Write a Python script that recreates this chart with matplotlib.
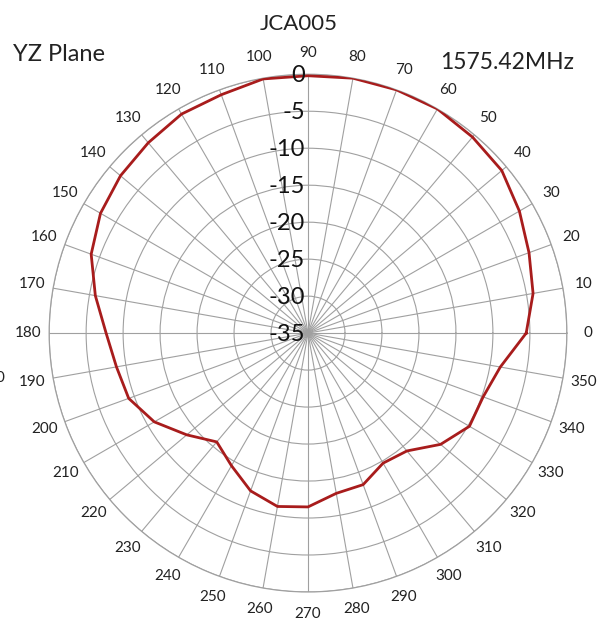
import numpy as np
import matplotlib.pyplot as plt

plt.rcParams['font.family'] = ['Lato', 'DejaVu Sans']

# pattern, dB every 10 degrees
angles_deg = list(range(0, 360, 10))
gain_db = [-5.5, -4.1, -3.2, -2.0, -0.8, -0.4, 0.0, 0.0, 0.0,
           -0.2, -0.1, -0.7, -0.8, -1.4, -1.9, -2.6, -3.8, -5.8,
           -7.7, -8.7, -9.2, -11.0, -13.6, -15.8, -14.3, -12.3, -11.2,
           -11.5, -13.0, -13.2, -14.7, -14.2, -11.6, -9.8, -9.8, -8.6]
ring_values = [-35, -30, -25, -20, -15, -10, -5, 0]
angle_labels = [str(a) for a in angles_deg]

grid_col = '#a0a0a0'

fig = plt.figure(figsize=(6.08, 6.23), dpi=100)
ax = fig.add_axes([0.0806, 0.0498, 0.852, 0.831], projection='polar')

theta = np.deg2rad(angles_deg + [angles_deg[0]])
r = gain_db + [gain_db[0]]
ax.plot(theta, r, color='#a81c1c', lw=2.0, zorder=5)

ax.set_ylim(-35, 0)
ax.set_yticks(ring_values[1:])
ax.set_yticklabels([])
ax.set_thetagrids(angles_deg, labels=angle_labels, fontsize=11, color='#222222')
ax.tick_params(axis='x', pad=5)
ax.grid(color=grid_col, lw=0.8)
ax.spines['polar'].set_color(grid_col)
ax.spines['polar'].set_linewidth(0.9)

# radial labels along the 90 degree spoke
for v in ring_values:
    ax.annotate(str(v), xy=(np.pi / 2, v), xytext=(-2, -1), textcoords='offset points',
                ha='right', va='center', fontsize=17, color='#111111', zorder=6)

fig.text(0.491, 0.961, 'JCA005', ha='center', va='center', fontsize=16, color='#222222')
fig.text(0.097, 0.912, 'YZ Plane', ha='center', va='center', fontsize=17, color='#222222')
fig.text(0.834, 0.900, '1575.42MHz', ha='center', va='center', fontsize=16.5, color='#222222')
fig.text(0.008, 0.394, '0', ha='right', va='center', fontsize=11, color='#222222')

fig.savefig('out.png', dpi=100)
